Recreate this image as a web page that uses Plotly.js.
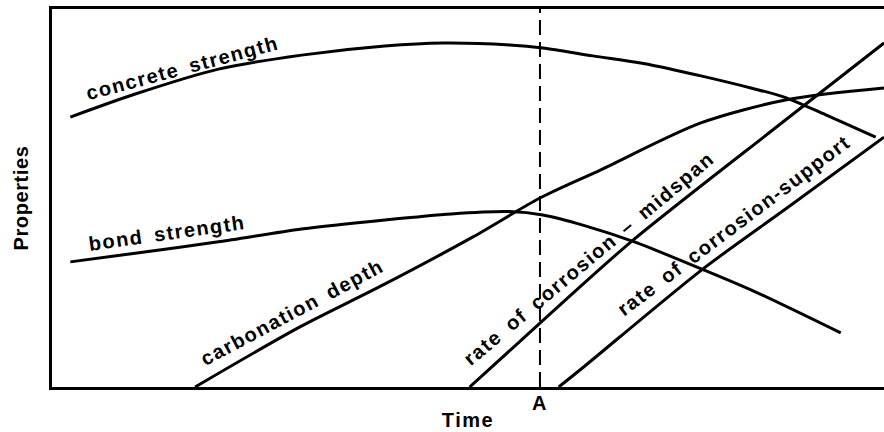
<!DOCTYPE html>
<html>
<head>
<meta charset="utf-8">
<script src="https://cdn.plot.ly/plotly-3.0.1.min.js"></script>
<style>
  html, body { margin: 0; padding: 0; background: #fff; overflow: hidden; }
  #chart { width: 884px; height: 432px; }
  .annotation-text, .xtitle, .xtick text { letter-spacing: 1.5px; word-spacing: 4px; }
  .ytitle { letter-spacing: 0.6px; }
</style>
</head>
<body>
<div id="chart"></div>
<script>
// Schematic data (arbitrary units: time 0-100, property 0-100)
const concreteX = [2.2, 10, 20, 30, 40, 47, 55, 59, 65, 72, 78, 84, 88, 93, 99];
const concreteY = [71.4, 77.5, 84.1, 87.8, 90.2, 91.0, 90.5, 89.7, 87.6, 85.2, 82.3, 79.1, 76.7, 72.0, 66.1];

const bondX = [2.2, 10, 20, 30, 40, 48, 55, 59, 64, 70, 76, 84, 94.8];
const bondY = [33.1, 35.4, 38.4, 41.8, 44.2, 45.8, 46.4, 45.5, 42.7, 38.4, 33.1, 25.7, 14.3];

const carbX = [17.2, 29.8, 39.8, 50.6, 58.65, 65.9, 77.9, 88.3, 100];
const carbY = [0, 15.9, 27.0, 39.7, 50.0, 57.4, 69.8, 76.0, 79.1];

const midX = [50.2, 58.65, 69.7, 87.5, 100];
const midY = [0, 16.9, 38.6, 69.5, 91.0];

const supX = [60.9, 63.9, 78.1, 88.5, 100];
const supY = [0, 5.3, 31.0, 47.6, 66.1];

const timeA = [58.65];
const tickLabels = ['A'];
const markerY = [0, 100];

const labels = ['concrete strength', 'bond strength', 'carbonation depth',
                'rate of corrosion – midspan', 'rate of corrosion-support'];
const labelX = [15.6, 13.8, 28.9, 64.6, 82.0];
const labelY = [84.5, 40.7, 19.8, 34.0, 42.8];
const labelAngle = [-15, -8, -28, -40, -37];

const FONT = '"Liberation Sans", Arial, Helvetica, sans-serif';
const lineStyle = {color: '#000', width: 3, shape: 'spline', smoothing: 0.8};
const textFont = {family: FONT, size: 20, color: '#000', weight: 'bold'};

const traces = [
  {x: concreteX, y: concreteY},
  {x: bondX, y: bondY},
  {x: carbX, y: carbY},
  {x: midX, y: midY},
  {x: supX, y: supY}
].map(t => Object.assign(t, {type: 'scatter', mode: 'lines', line: lineStyle, hoverinfo: 'skip'}));

traces.push({
  type: 'scatter', mode: 'lines',
  x: [timeA[0], timeA[0]], y: markerY,
  line: {color: '#000', width: 2, dash: '15px,7px'},
  hoverinfo: 'skip'
});

const annotations = labels.map((t, i) => ({
  text: t, x: labelX[i], y: labelY[i], xref: 'x', yref: 'y',
  textangle: labelAngle[i], showarrow: false,
  font: textFont
}));

const layout = {
  width: 884, height: 432,
  margin: {l: 52, r: 0, t: 9, b: 45},
  paper_bgcolor: '#fff', plot_bgcolor: '#fff',
  showlegend: false,
  font: {family: FONT, color: '#000'},
  xaxis: {
    range: [0, 100], showgrid: false, zeroline: false,
    showline: true, linecolor: '#000', linewidth: 3, mirror: true,
    ticks: '', tickvals: timeA, ticktext: tickLabels,
    tickfont: textFont, ticklabelstandoff: -4,
    title: {text: 'Time', font: textFont, standoff: 0},
    fixedrange: true
  },
  yaxis: {
    range: [0, 100], showgrid: false, zeroline: false,
    showline: true, linecolor: '#000', linewidth: 3, mirror: false,
    ticks: '', showticklabels: false,
    title: {text: 'Properties', font: textFont, standoff: 16},
    fixedrange: true
  },
  annotations: annotations
};

Plotly.newPlot('chart', traces, layout, {displayModeBar: false, staticPlot: true});
</script>
</body>
</html>
